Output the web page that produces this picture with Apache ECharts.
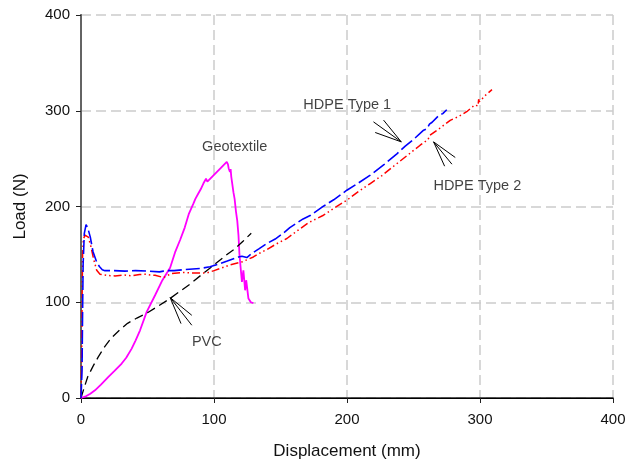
<!DOCTYPE html>
<html>
<head>
<meta charset="utf-8">
<script src="https://cdn.jsdelivr.net/npm/echarts@6/dist/echarts.min.js"></script>
<style>html,body{margin:0;padding:0;background:#fff}#c{width:635px;height:461px}</style>
</head>
<body>
<div id="c"></div>
<script>
// ---- data (Displacement mm, Load N) ----
var xTicks = [0, 100, 200, 300, 400];
var yTicks = [0, 100, 200, 300, 400];

var hdpeType1 = [[0,0],[0.8,30],[1.2,90],[1.6,140],[2.5,172],[3.8,181],[5,178],[7,168],[9,153],[10.5,147],[12,141],[14,137],[16,134],[18,133],[25,133],[33,132.5],[41,133],[50,132.5],[59,131.7],[62,132.5],[65,133],[70,133],[77,134],[89.5,135.2],[97,137],[104.6,140.4],[110,143],[118.4,147.3],[121,148],[124.7,146.7],[128.4,150.9],[134,156],[139.7,161.3],[146,166],[152,172],[157,178],[167,187],[172.3,190.5],[182.3,200.3],[190,207],[199.9,217],[208,224],[217.5,232.7],[228,244],[237.5,255],[243.8,263],[250,270],[257.6,279.7],[260,281],[262,286],[264,288],[269,295],[272,297],[275,301]];

var hdpeType2 = [[0,0],[0.5,40],[0.8,100],[1.2,150],[1.8,166],[3,170],[5.5,168],[7.5,158],[9.5,145],[11.8,133.4],[14.3,129.3],[20,128],[25.6,127.5],[32,128.5],[38,127.5],[44,129],[48,129.3],[52,128.5],[55.7,128.2],[62,125.8],[65,128],[68,130],[77,131],[85,130.6],[94.6,130.6],[100,133],[104.6,135.2],[112,139],[120.9,142.1],[125,144.5],[129.6,147.3],[134,151],[139.7,155],[147,161],[154.8,166.6],[162,174],[171,183],[182.3,190.9],[190,198],[199.9,206.6],[208,215],[217.5,224],[226,232],[235,242],[245,253],[255,264],[261,270],[262,274],[263,275],[270,282],[277.6,290],[284,294],[290,299],[296,306],[298.5,305],[299,312],[299.5,309.3],[304,316],[309,322]];

var geotextile = [[0,0],[4,2],[7,4.5],[10.5,8],[15,14],[20.6,22],[25,28],[30.6,36],[34,42],[38.1,51.6],[41,60],[44.4,70.7],[49.4,89.9],[55.7,107.3],[61.2,123],[67,136],[70.7,152],[74.5,165],[78,178],[81,192],[84.5,203],[86,208],[87,206],[88,213],[90,218],[91,216],[92,224],[93,222],[94,229],[95,226],[95.8,227.5],[100,233],[105,240],[109.6,246.6],[110.5,244],[111,240],[112,236],[112.5,239],[113,231],[113.5,233],[114.6,215],[115.5,208],[116.5,195],[117.5,185],[118.4,170],[119.1,150.9],[120.2,133.4],[121,121.2],[122.1,133.4],[123.4,112.5],[124.2,123],[125.9,103.9],[127.7,100],[129.6,99]];

var pvc = [[0,0],[2,9],[5,22],[9,33],[13,43],[18,54],[23,63],[29,71],[35,78],[42,83.5],[50,89],[58,96],[66,103],[74,111],[82,119],[90,128],[100,139],[108,148],[115,155],[122,164],[128,172]];

// annotation labels [x, y, text]
var labels = [[200.2,305.9,'HDPE Type 1'],[298,221,'HDPE Type 2'],[115.6,262,'Geotextile'],[94.6,58.5,'PVC']];
// pointer lines [[x1,y1],[x2,y2]]
var pointers = [
  [[219.9,288.4],[240.8,267.5]],[[227.5,290.2],[240.8,267.5]],[[221.2,277.3],[240.8,267.5]],
  [[281.4,251.2],[265.1,267.5]],[[278.9,244.2],[265.1,267.5]],[[273.4,242.1],[265.1,267.5]],
  [[83.3,86.4],[67,104.9]],[[83.3,76],[67,104.9]],[[75.2,77.7],[67,104.9]]
];

var FONT = 'Arial, "Liberation Sans", sans-serif';
var chart = echarts.init(document.getElementById('c'), null, {renderer:'canvas'});
var split = {show:true, lineStyle:{color:'#cccccc', width:1.5, type:[10,5]}};
chart.setOption({
  animation:false,
  backgroundColor:'#fff',
  grid:{left:81, right:22, top:15, bottom:63, containLabel:false, outerBoundsMode:'none'},
  xAxis:[{
    type:'value', min:xTicks[0], max:xTicks[xTicks.length-1], interval:100,
    name:'Displacement (mm)', nameLocation:'middle', nameGap:45,
    nameTextStyle:{fontFamily:FONT, fontSize:17, color:'#111'},
    axisLine:{show:true, onZero:false, lineStyle:{color:'#222', width:1.5}},
    axisTick:{show:true, inside:false, length:5, lineStyle:{color:'#222', width:1}},
    axisLabel:{fontFamily:FONT, fontSize:15, color:'#111', margin:14},
    splitLine:split
  },{
    type:'value', position:'top', min:0, max:400, interval:100,
    axisLine:{show:true, lineStyle:{color:'#000', width:1.2}},
    axisTick:{show:false}, axisLabel:{show:false}, splitLine:{show:false}
  }],
  yAxis:[{
    type:'value', min:yTicks[0], max:yTicks[yTicks.length-1], interval:100,
    name:'Load (N)', nameLocation:'middle', nameGap:52,
    nameTextStyle:{fontFamily:FONT, fontSize:17, color:'#111'},
    axisLine:{show:true, onZero:false, lineStyle:{color:'#222', width:1.5}},
    axisTick:{show:true, length:5, lineStyle:{color:'#222', width:1}},
    axisLabel:{fontFamily:FONT, fontSize:15, color:'#111', margin:11},
    splitLine:split
  },{
    type:'value', position:'right', min:0, max:400, interval:100,
    axisLine:{show:true, lineStyle:{color:'#666', width:1.8}},
    axisTick:{show:false}, axisLabel:{show:false}, splitLine:{show:false}
  }],
  series:[
    {name:'Geotextile', type:'line', data:geotextile, showSymbol:false, symbol:'none',
     lineStyle:{color:'#ff00ff', width:1.8}},
    {name:'PVC', type:'line', data:pvc, symbol:'none',
     lineStyle:{color:'#000', width:1.3, type:[9,5]}},
    {name:'HDPE Type 2', type:'line', data:hdpeType2, symbol:'none',
     lineStyle:{color:'#ff0000', width:1.5, type:[8,3,1.5,3,1.5,3]}},
    {name:'HDPE Type 1', type:'line', data:hdpeType1, symbol:'none',
     lineStyle:{color:'#0000ff', width:1.6, type:[14,4]}},
    {type:'lines', coordinateSystem:'cartesian2d', data:pointers.map(function(p){return {coords:p};}),
     lineStyle:{color:'#000', width:1, opacity:1}, symbol:'none', silent:true, z:5},
    {type:'scatter', data:labels, symbolSize:0, silent:true, z:6,
     label:{show:true, position:'inside', formatter:function(p){return p.data[2];},
            fontFamily:FONT, fontSize:14.5, color:'#111'}}
  ]
});
</script>
</body>
</html>
